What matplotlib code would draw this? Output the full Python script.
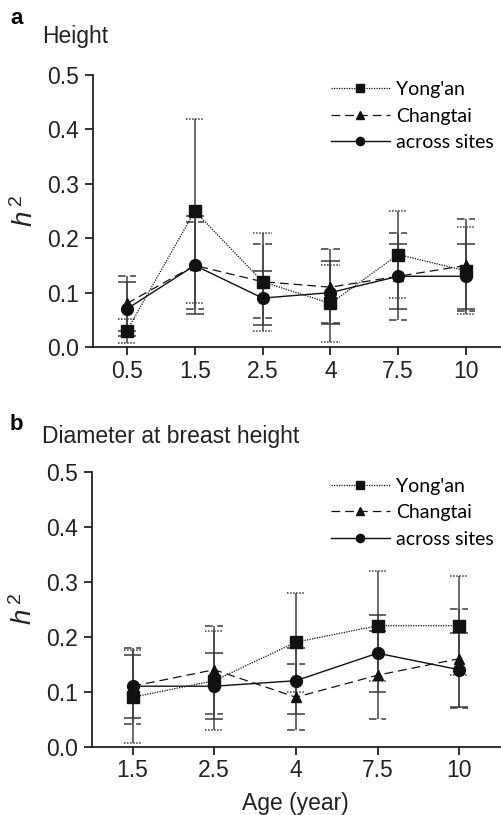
import matplotlib
matplotlib.use("Agg")
import matplotlib.pyplot as plt
import numpy as np

plt.rcParams['font.family'] = ['Liberation Sans', 'DejaVu Sans']
plt.rcParams['mathtext.fontset'] = 'custom'
plt.rcParams['mathtext.it'] = 'Liberation Sans:italic'
plt.rcParams['mathtext.rm'] = 'Liberation Sans'

series_names = ["Yong'an", "Changtai", "across sites"]

# Panel a: Height
ages_a = ['0.5', '1.5', '2.5', '4', '7.5', '10']
yongan_a = [0.03, 0.25, 0.12, 0.08, 0.17, 0.14]
yongan_a_lo = [0.008, 0.08, 0.03, 0.01, 0.09, 0.06]
yongan_a_hi = [0.052, 0.42, 0.21, 0.15, 0.25, 0.22]
changtai_a = [0.08, 0.15, 0.12, 0.11, 0.13, 0.15]
changtai_a_lo = [0.029, 0.07, 0.053, 0.044, 0.05, 0.066]
changtai_a_hi = [0.13, 0.23, 0.19, 0.18, 0.21, 0.235]
across_a = [0.07, 0.15, 0.09, 0.10, 0.13, 0.13]
across_a_lo = [0.02, 0.06, 0.04, 0.042, 0.07, 0.07]
across_a_hi = [0.12, 0.24, 0.14, 0.158, 0.19, 0.19]

# Panel b: Diameter at breast height
ages_b = ['1.5', '2.5', '4', '7.5', '10']
yongan_b = [0.09, 0.12, 0.19, 0.22, 0.22]
yongan_b_lo = [0.006, 0.03, 0.10, 0.12, 0.13]
yongan_b_hi = [0.176, 0.21, 0.28, 0.32, 0.31]
changtai_b = [0.11, 0.14, 0.09, 0.13, 0.16]
changtai_b_lo = [0.041, 0.06, 0.03, 0.05, 0.071]
changtai_b_hi = [0.179, 0.22, 0.15, 0.21, 0.25]
across_b = [0.11, 0.11, 0.12, 0.17, 0.14]
across_b_lo = [0.052, 0.05, 0.06, 0.10, 0.072]
across_b_hi = [0.167, 0.17, 0.18, 0.24, 0.207]

styles = [
    dict(ls=(0, (1.0, 1.0)), marker='s', ms=8.5, lw=0.9),
    dict(ls=(0, (7, 4)), marker='^', ms=7.5, lw=0.9),
    dict(ls='-', marker='o', ms=8.5, lw=1.0),
]
cap_ls = [(0, (1.0, 1.0)), (0, (5, 3)), '-']

fig = plt.figure(figsize=(5.01, 8.15), dpi=100)
ax_a = fig.add_axes([0.1856, 0.5742, 0.8124, 0.3338])
ax_b = fig.add_axes([0.183, 0.0838, 0.815, 0.3374])

def draw(ax, ages, vals, los, his, capw):
    x = np.arange(len(ages))
    handles = []
    for v, lo, hi, cls in zip(vals, los, his, cap_ls):
        ax.vlines(x, lo, hi, colors='#444444', lw=1.1, zorder=2)
        ax.hlines(lo, x - capw, x + capw, colors='#3a3a3a', lw=1.1, linestyles=[cls], zorder=2)
        ax.hlines(hi, x - capw, x + capw, colors='#3a3a3a', lw=1.1, linestyles=[cls], zorder=2)
    for v, st, name in zip(vals, styles, series_names):
        h, = ax.plot(x, v, color='#111111', linestyle=st['ls'], lw=st['lw'],
                     marker=st['marker'], ms=st['ms'], mfc='#111111', mec='#111111',
                     label=name, zorder=3)
        handles.append(h)
    ax.set_xlim(-0.5, len(ages) - 0.5)
    ax.set_ylim(0, 0.5)
    ax.set_xticks(x)
    ax.set_xticklabels(ages)
    ax.set_yticks([0, 0.1, 0.2, 0.3, 0.4, 0.5])
    ax.set_yticklabels(['0.0', '0.1', '0.2', '0.3', '0.4', '0.5'])
    for s in ['top', 'right']:
        ax.spines[s].set_visible(False)
    for s in ['left', 'bottom']:
        ax.spines[s].set_linewidth(1.3)
        ax.spines[s].set_color('#222222')
    ax.tick_params(axis='both', direction='out', length=6, width=1.3,
                   colors='#222222', labelsize=16.5, pad=4)
    ax.tick_params(axis='x', pad=3)
    ax.set_ylabel(r'$h^{\,\mathrm{2}}$', fontsize=20, color='#222222', labelpad=6)
    return handles

leg_kw = dict(loc='upper right', bbox_to_anchor=(1.0, 1.0), frameon=False,
              prop={'family': 'Lato', 'size': 14}, handlelength=3.0, handletextpad=0.35,
              labelspacing=0.5, markerscale=0.7, borderaxespad=0.2, borderpad=0.1)

h = draw(ax_a, ages_a, [yongan_a, changtai_a, across_a],
         [yongan_a_lo, changtai_a_lo, across_a_lo],
         [yongan_a_hi, changtai_a_hi, across_a_hi], 0.135)
ax_a.legend(handles=h, **leg_kw)

h = draw(ax_b, ages_b, [yongan_b, changtai_b, across_b],
         [yongan_b_lo, changtai_b_lo, across_b_lo],
         [yongan_b_hi, changtai_b_hi, across_b_hi], 0.11)
ax_b.legend(handles=h, **leg_kw)
ax_b.set_xlabel('Age (year)', fontsize=16.5, color='#222222', labelpad=7)

fig.text(10 / 501, 1 - 18 / 815, 'a', fontsize=16, fontweight='bold', va='center', ha='left')
fig.text(42 / 501, 1 - 36 / 815, 'Height', fontsize=16.5, va='center', ha='left', color='#222222')
fig.text(10 / 501, 1 - 424 / 815, 'b', fontsize=16, fontweight='bold', va='center', ha='left')
fig.text(42 / 501, 1 - 437 / 815, 'Diameter at breast height', fontsize=16.5, va='center', ha='left', color='#222222')

fig.savefig('out.png', dpi=100)
